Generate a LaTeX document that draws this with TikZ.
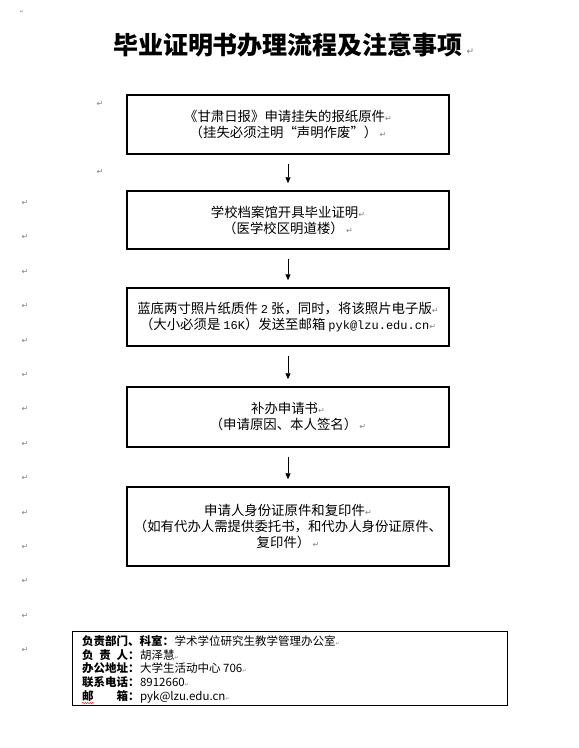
\documentclass[tikz,border=0pt]{standalone}
\usepackage{fontspec}
\setmainfont{Noto Sans CJK SC}
\newfontfamily\markfont{DejaVu Sans}
\newfontfamily\monofont{Liberation Mono}
\usetikzlibrary{arrows.meta,decorations.pathmorphing}

\newcommand\pmark{{\markfont\fontsize{8}{8}\selectfont\color{gray}↵}}
\newcommand\tinymark{{\markfont\fontsize{5}{5}\selectfont\color{gray}↵}}
\newcommand\mono[1]{{\monofont\fontsize{12}{12}\selectfont #1}}

\begin{document}
\begin{tikzpicture}[x=1pt,y=-1pt,
  stepbox/.style={draw, line width=1.5pt, minimum width=322pt, align=center,
    inner sep=0pt, font=\fontsize{13.4}{16}\selectfont},
  flow/.style={line width=0.9pt, -{Triangle[width=5pt,length=6pt]},
    shorten <=9pt, shorten >=7pt},
  lab/.style={anchor=base west, inner sep=0pt, font=\bfseries\fontsize{11.5}{11.5}\selectfont},
  val/.style={anchor=base west, inner sep=0pt, font=\fontsize{11.5}{11.5}\selectfont},
  retmark/.style={inner sep=0pt}]
  \useasboundingbox (0,0) rectangle (579,748);
  \fill[white] (0,0) rectangle (579,748);

  \node[font=\bfseries\fontsize{25}{25}\selectfont] (title) at (288,45) {毕业证明书办理流程及注意事项};
  \node[retmark, anchor=base west] (titlemark) at (title.base east) {\markfont\fontsize{9}{9}\selectfont\color{gray}↵};

  \node[stepbox, minimum height=59pt] (apply) at (288,124.5)
    {《甘肃日报》申请挂失的报纸原件\pmark\\（挂失必须注明“声明作废”）\,\pmark};
  \node[stepbox, minimum height=58pt] (archive) at (288,220)
    {学校档案馆开具毕业证明\pmark\\（医学校区明道楼）\,\pmark};
  \node[stepbox, minimum height=58pt] (photo) at (288,317)
    {蓝底两寸照片纸质件 \mono{2} 张，同时，将该照片电子版\pmark\\（大小必须是 \mono{16K}）发送至邮箱 \mono{pyk@lzu.edu.cn}\pmark};
  \node[stepbox, minimum height=60pt] (form) at (288,417)
    {补办申请书\pmark\\（申请原因、本人签名）\,\pmark};
  \node[stepbox, minimum height=79pt] (idcard) at (288,526.5)
    {申请人身份证原件和复印件\pmark\\（如有代办人需提供委托书，和代办人身份证原件、\\复印件）\,\pmark};

  \draw[flow] (apply) -- (archive);
  \draw[flow] (archive) -- (photo);
  \draw[flow] (photo) -- (form);
  \draw[flow] (form) -- (idcard);

  \node[draw, line width=0.8pt, minimum width=435pt, minimum height=74pt, inner sep=0pt] (info) at (289.5,668) {};
  \node[lab] (dept) at (82,645.3) {负责部门、科室：};
  \node[val] (deptv) at (dept.base east) {学术学位研究生教学管理办公室\tinymark};
  \node[lab] (head) at (82,659.1) {\makebox[57.5pt][s]{负\hfil 责\hfil 人：}};
  \node[val] (headv) at (head.base east) {胡泽慧\tinymark};
  \node[lab] (addr) at (82,672.9) {办公地址：};
  \node[val] (addrv) at (addr.base east) {大学生活动中心 706\tinymark};
  \node[lab] (tel) at (82,686.7) {联系电话：};
  \node[val] (telv) at (tel.base east) {8912660\tinymark};
  \node[lab] (mail) at (82,700.5) {\makebox[57.5pt][s]{邮\hfil 箱：}};
  \node[val] (mailv) at (mail.base east) {pyk@lzu.edu.cn\tinymark};
  \draw[red, line width=0.5pt, decorate, decoration={snake, amplitude=0.6pt, segment length=2.5pt}]
    ([yshift=-2.5pt]mail.base west) -- ++(12,0);

  \node[retmark] (m0) at (22,12) {\tinymark};
  \node[retmark] (m1) at (100,104) {\pmark};
  \node[retmark] (m2) at (100,172) {\pmark};
  \foreach \k in {0,...,13}
    \node[retmark] (side\k) at (25,203+34.4*\k) {\pmark};
\end{tikzpicture}
\end{document}
